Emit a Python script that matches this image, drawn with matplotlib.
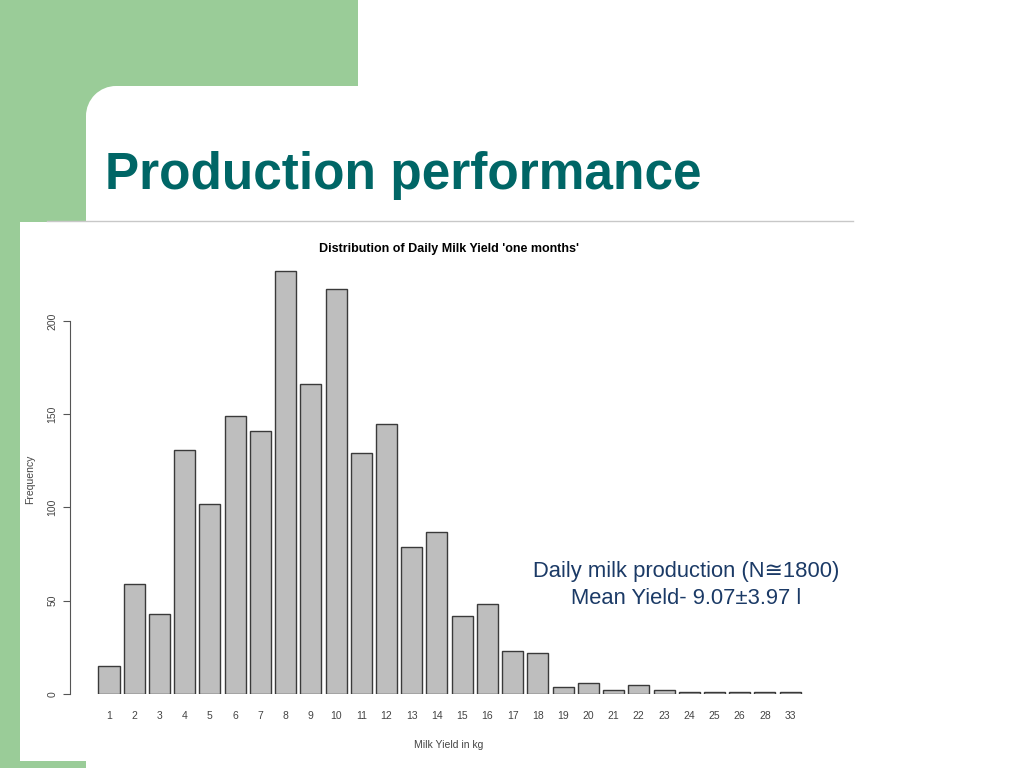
import matplotlib.pyplot as plt
from matplotlib.patches import Rectangle, Circle

# milk yield classes (kg) and their counts
yield_kg = ['1', '2', '3', '4', '5', '6', '7', '8', '9', '10', '11', '12', '13', '14',
            '15', '16', '17', '18', '19', '20', '21', '22', '23', '24', '25', '26', '28', '33']
frequency = [15, 59, 43, 131, 102, 149, 141, 227, 166, 217, 129, 145, 79, 87,
             42, 48, 23, 22, 4, 6, 2, 5, 2, 1, 1, 1, 1, 1]
y_ticks = [0, 50, 100, 150, 200]

green = '#9acc98'
teal = '#006666'
navy = '#1b3a66'

plt.rcParams['font.family'] = ['Liberation Sans', 'DejaVu Sans']

fig = plt.figure(figsize=(10.24, 7.68), dpi=100)

# slide background drawn in pixel coordinates
bg = fig.add_axes([0, 0, 1, 1])
bg.set_xlim(0, 1024)
bg.set_ylim(768, 0)
bg.axis('off')
bg.add_patch(Rectangle((0, 0), 358, 86, color=green, lw=0))
bg.add_patch(Rectangle((0, 0), 86, 768, color=green, lw=0))
# rounded inner corner of the white area
bg.add_patch(Rectangle((86, 86), 30, 30, color=green, lw=0))
bg.add_patch(Circle((116, 116), 30, color='white', lw=0))
bg.add_patch(Rectangle((116, 86), 900, 200, color='white', lw=0))
bg.add_patch(Rectangle((86, 116), 200, 200, color='white', lw=0))
bg.add_patch(Rectangle((20, 222), 833, 539, color='white', lw=0))
bg.plot([47, 853], [221, 221], color='#c8c8c8', lw=1)
bg.text(105, 189, 'Production performance', color=teal, fontsize=37,
        fontweight='bold', ha='left', va='baseline')
bg.text(686, 585, 'Daily milk production (N\u22451800)\nMean Yield- 9.07\u00b13.97 l',
        color=navy, fontsize=15.8, ha='center', va='center', linespacing=1.4)

# histogram-style bar chart
ax = fig.add_axes([70 / 1024, 74 / 768, 758 / 1024, 429 / 768])
ax.patch.set_alpha(0)
pos = list(range(len(yield_kg)))
ax.bar(pos, frequency, width=0.833, color='#bebebe', edgecolor='#3a3a3a', linewidth=1)
ax.set_xlim(-1.546, 28.5)
ax.set_ylim(0, 230)
for s in ['top', 'right', 'bottom']:
    ax.spines[s].set_visible(False)
ax.spines['left'].set_bounds(0, 200)
ax.spines['left'].set_color('#555555')
ax.set_yticks(y_ticks)
ax.set_yticklabels([str(t) for t in y_ticks], rotation=90, va='center')
ax.tick_params(axis='y', colors='#555555', labelcolor='#444444', labelsize=7.5,
               length=5, pad=4)
ax.set_xticks(pos)
ax.set_xticklabels(yield_kg)
ax.tick_params(axis='x', length=0, labelsize=7.5, labelcolor='#444444', pad=12)
ax.set_xlabel('Milk Yield in kg', fontsize=7.5, color='#444444', labelpad=14)
ax.set_ylabel('Frequency', fontsize=7.5, color='#444444', labelpad=9)
ax.set_title("Distribution of Daily Milk Yield 'one months'", fontsize=9,
             fontweight='bold', y=1.01)

fig.savefig('out.png', dpi=100)
